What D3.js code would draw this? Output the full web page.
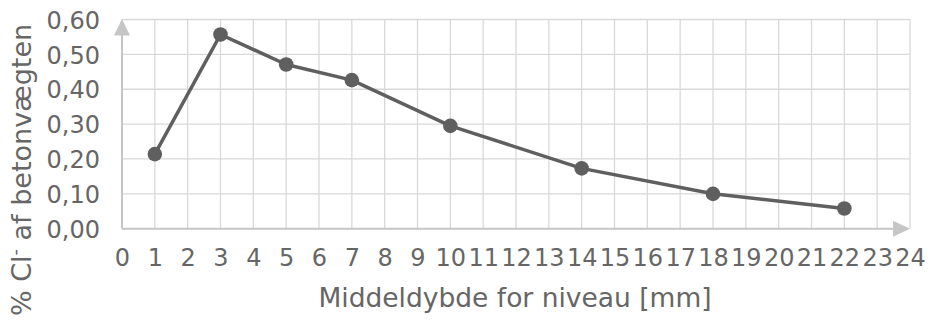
<!DOCTYPE html>
<html>
<head>
<meta charset="utf-8">
<script src="https://cdn.jsdelivr.net/npm/d3@7"></script>
<style>
  html, body { margin: 0; padding: 0; background: #fff; }
  svg { display: block; }
  text { font-family: "DejaVu Sans", Verdana, sans-serif; fill: #666666; }
</style>
</head>
<body>
<svg id="chart" width="928" height="320"></svg>
<script>
// Chloride profile: mean depth of each sampling level vs. % Cl- of concrete weight
const depths = [1, 3, 5, 7, 10, 14, 18, 22];
const chloride = [0.214, 0.557, 0.471, 0.426, 0.295, 0.173, 0.100, 0.058];
const xTicks = d3.range(0, 25);
const yTicks = [0, 0.1, 0.2, 0.3, 0.4, 0.5, 0.6];
const xTitle = "Middeldybde for niveau [mm]";
const yTitleMain = "% Cl";
const yTitleSup = "-";
const yTitleRest = " af betonvægten";

const svg = d3.select("#chart");
const x = d3.scaleLinear().domain([0, 24]).range([122, 910]);
const y = d3.scaleLinear().domain([0, 0.6]).range([228.7, 19.5]);

const da = d3.formatLocale({ decimal: ",", thousands: ".", grouping: [3], currency: ["", " kr."] });
const fmtY = da.format(".2f");

const gridColor = "#d9d9d9";
const axisColor = "#c6c6c6";
const lineColor = "#5f5f5f";
const textColor = "#666666";

// grid
const grid = svg.append("g");
grid.selectAll(".vg").data(xTicks.filter(d => d > 0)).join("line")
  .attr("x1", d => x(d)).attr("x2", d => x(d))
  .attr("y1", y(0.6)).attr("y2", y(0))
  .attr("stroke", gridColor).attr("stroke-width", 1.3);
grid.selectAll(".hg").data(yTicks.filter(d => d > 0)).join("line")
  .attr("x1", x(0)).attr("x2", x(24))
  .attr("y1", d => y(d)).attr("y2", d => y(d))
  .attr("stroke", gridColor).attr("stroke-width", 1.3);

// axes with arrow heads
const ax = svg.append("g");
ax.append("line").attr("x1", x(0)).attr("x2", x(24) - 14)
  .attr("y1", y(0)).attr("y2", y(0)).attr("stroke", axisColor).attr("stroke-width", 2);
ax.append("line").attr("x1", x(0)).attr("x2", x(0))
  .attr("y1", y(0)).attr("y2", y(0.6) + 14).attr("stroke", axisColor).attr("stroke-width", 2);
ax.append("path")
  .attr("d", `M${x(24)},${y(0)} L${x(24) - 17},${y(0) - 8} L${x(24) - 17},${y(0) + 8} Z`)
  .attr("fill", axisColor);
ax.append("path")
  .attr("d", `M${x(0)},${y(0.6) - 0.5} L${x(0) - 8},${y(0.6) + 16} L${x(0) + 8},${y(0.6) + 16} Z`)
  .attr("fill", axisColor);

// tick labels
const xAxis = svg.append("g").attr("transform", `translate(0,${y(0)})`)
  .call(d3.axisBottom(x).tickValues(xTicks).tickFormat(d3.format("d")).tickSize(0).tickPadding(20));
const yAxis = svg.append("g").attr("transform", `translate(${x(0)},0)`)
  .call(d3.axisLeft(y).tickValues(yTicks).tickFormat(fmtY).tickSize(0).tickPadding(22));
[xAxis, yAxis].forEach(g => {
  g.select(".domain").remove();
  g.selectAll("text").attr("fill", textColor).style("font-size", "24px")
    .style("font-family", "'DejaVu Sans', Verdana, sans-serif");
});
yAxis.selectAll("text").attr("dy", "0.36em");

// data line and markers
svg.append("path").datum(depths.map((d, i) => [d, chloride[i]]))
  .attr("fill", "none").attr("stroke", lineColor).attr("stroke-width", 3.5)
  .attr("stroke-linejoin", "round")
  .attr("d", d3.line().x(d => x(d[0])).y(d => y(d[1])));
svg.selectAll(".pt").data(depths).join("circle")
  .attr("cx", d => x(d)).attr("cy", (d, i) => y(chloride[i]))
  .attr("r", 7.3).attr("fill", lineColor);

// titles
svg.append("text").attr("x", 515).attr("y", 307).attr("text-anchor", "middle")
  .style("font-size", "26.5px").text(xTitle);
const yt = svg.append("text").attr("transform", "translate(31,170) rotate(-90)")
  .attr("text-anchor", "middle").style("font-size", "27px");
yt.append("tspan").text(yTitleMain);
yt.append("tspan").attr("baseline-shift", "super").style("font-size", "18px").text(yTitleSup);
yt.append("tspan").text(yTitleRest);
</script>
</body>
</html>
